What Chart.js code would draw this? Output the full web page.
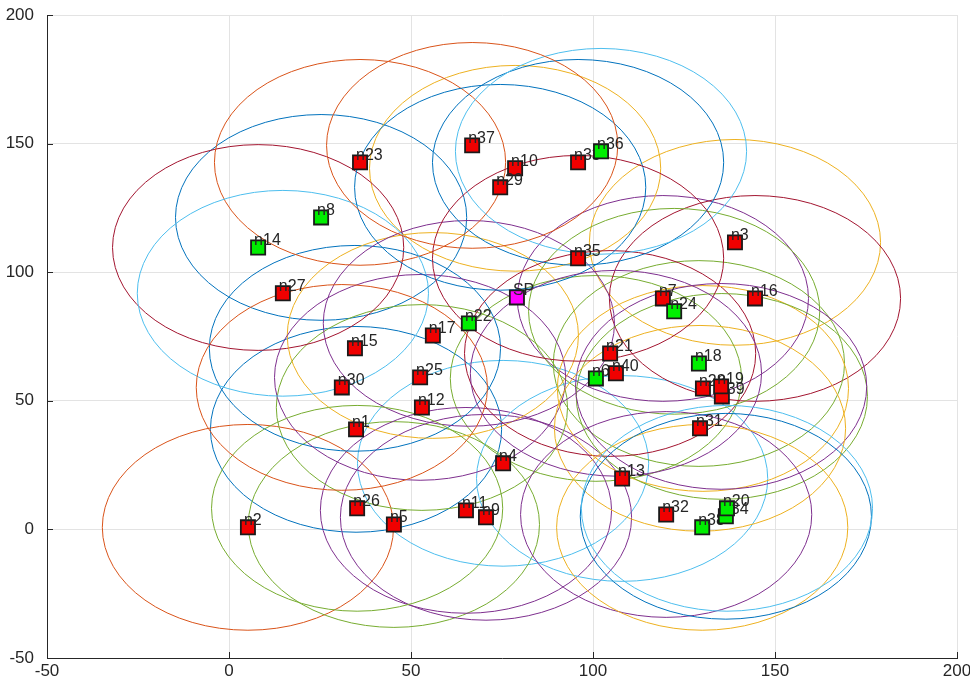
<!DOCTYPE html>
<html>
<head>
<meta charset="utf-8">
<script src="https://cdn.jsdelivr.net/npm/chart.js@4.4.1/dist/chart.umd.min.js"></script>
<style>
  html, body { margin: 0; padding: 0; background: #fff; }
  canvas { display: block; }
</style>
</head>
<body>
<canvas id="net" width="970" height="688"></canvas>
<script>
// node data (drawing order matters: later nodes sit on top of earlier labels)
const nodeNames = ['n1','n2','n3','n4','n5','n6','n7','n8','n10','n11','n9','n12','n13','n14','n15','n16','n17','n18',
                   'n21','n22','n23','n24','n25','n26','n27','n28','n39','n19','n29','n30','n31','n32','n33','n35',
                   'n36','n37','n38','n40','n34','n20','SP'];
const nodeX = [34.9, 5.2, 139.0, 75.3, 45.3, 100.8, 119.2, 25.3, 78.6, 65.1, 70.6, 53.0, 108.0, 8.0, 34.6, 144.5, 56.0, 129.1,
               104.7, 65.9, 36.0, 122.3, 52.5, 35.2, 14.8, 130.2, 135.4, 135.2, 74.5, 31.0, 129.4, 120.1, 95.9, 95.9,
               102.2, 66.8, 130.0, 106.3, 136.5, 136.8, 79.1];
const nodeY = [38.9, 0.8, 111.6, 25.7, 1.9, 58.7, 89.8, 121.3, 140.4, 7.4, 4.7, 47.4, 19.8, 109.6, 70.4, 89.8, 75.4, 64.5,
               68.4, 80.1, 142.7, 84.8, 59.1, 8.2, 91.8, 54.8, 51.7, 55.6, 133.0, 55.2, 39.3, 5.8, 142.7, 105.4,
               147.0, 149.3, 0.8, 60.7, 5.1, 8.2, 90.2];
// r = red node, g = green node, s = sink point
const nodeKind = ['r','r','r','r','r','g','r','g','r','r','r','r','r','g','r','r','r','g',
                  'r','g','r','g','r','r','r','r','r','r','r','r','r','r','r','r',
                  'g','r','g','r','g','g','s'];
const RANGE = 40;

const xTicks = [-50, 0, 50, 100, 150, 200];
const yTicks = [-50, 0, 50, 100, 150, 200];

// ring colours (matlab default order), index per node, -1 = no ring
const palette = ['#0072BD','#D95319','#EDB120','#7E2F8E','#77AC30','#4DBEEE','#A2142F'];
const ringIdx = [0,1,2,5,4,4,3,0,2,3,3,4,5,6,0,6,2,4,
                 6,3,1,4,3,4,5,2,4,3,0,1,2,3,0,6,
                 5,1,2,3,0,5,-1];
const fillFor = { r: '#f00000', g: '#00ee00', s: '#ff00ff' };
const TXT = '#262626';
const FONT = '"Liberation Sans", Arial, Helvetica, sans-serif';

const datasets = nodeNames.map((name, i) => ({
    label: name,
    data: [{ x: nodeX[i], y: nodeY[i] }],
    pointStyle: 'rect',
    pointRadius: 10,
    pointHoverRadius: 10,
    backgroundColor: fillFor[nodeKind[i]],
    borderColor: '#1a1a1a',
    borderWidth: 1.8,
    order: -i
}));

// rings of radius RANGE around every node
const ringPlugin = {
    id: 'rings',
    beforeDatasetsDraw(chart) {
        const { ctx, chartArea, scales: { x, y } } = chart;
        ctx.save();
        ctx.beginPath();
        ctx.rect(chartArea.left, chartArea.top, chartArea.width, chartArea.height);
        ctx.clip();
        ctx.lineWidth = 1;
        for (let i = 0; i < nodeNames.length; i++) {
            if (ringIdx[i] < 0) continue;
            const cx = x.getPixelForValue(nodeX[i]);
            const cy = y.getPixelForValue(nodeY[i]);
            const rx = Math.abs(x.getPixelForValue(nodeX[i] + RANGE) - cx);
            const ry = Math.abs(y.getPixelForValue(nodeY[i] + RANGE) - cy);
            ctx.strokeStyle = palette[ringIdx[i]];
            ctx.beginPath();
            ctx.ellipse(cx, cy, rx, ry, 0, 0, Math.PI * 2);
            ctx.stroke();
        }
        ctx.restore();
    }
};

// node name next to each marker, drawn right after its own marker
const labelPlugin = {
    id: 'nodeLabels',
    afterDatasetDraw(chart, args) {
        const pt = args.meta.data[0];
        if (!pt) return;
        const ctx = chart.ctx;
        ctx.save();
        ctx.font = '16px ' + FONT;
        ctx.fillStyle = TXT;
        ctx.textAlign = 'left';
        ctx.textBaseline = 'middle';
        ctx.fillText(nodeNames[args.index], pt.x - 4, pt.y - 7);
        ctx.restore();
    }
};

// matlab style ticks pointing into the axes
const innerTicks = {
    id: 'innerTicks',
    afterDraw(chart) {
        const { ctx, chartArea, scales: { x, y } } = chart;
        ctx.save();
        ctx.strokeStyle = TXT;
        ctx.lineWidth = 1;
        ctx.beginPath();
        x.ticks.forEach(t => {
            const px = Math.round(x.getPixelForValue(t.value)) + 0.5;
            ctx.moveTo(px, chartArea.bottom);
            ctx.lineTo(px, chartArea.bottom - 6);
        });
        y.ticks.forEach(t => {
            const py = Math.round(y.getPixelForValue(t.value)) + 0.5;
            ctx.moveTo(chartArea.left, py);
            ctx.lineTo(chartArea.left + 6, py);
        });
        ctx.stroke();
        ctx.restore();
    }
};

new Chart(document.getElementById('net'), {
    type: 'scatter',
    data: { datasets: datasets },
    options: {
        responsive: false,
        animation: false,
        devicePixelRatio: 1,
        layout: { padding: { top: 15, right: 13, left: 0, bottom: 0 } },
        plugins: { legend: { display: false }, tooltip: { enabled: false } },
        scales: {
            x: {
                type: 'linear', min: -50, max: 200,
                afterBuildTicks: s => { s.ticks = xTicks.map(v => ({ value: v })); },
                afterFit: s => { s.height = 30; s.paddingLeft = 0; s.paddingRight = 0; },
                ticks: { color: TXT, font: { family: FONT, size: 17 }, padding: 3, maxRotation: 0 },
                grid: { color: '#e3e3e3', drawTicks: false },
                border: { display: true, color: TXT, width: 1 }
            },
            y: {
                type: 'linear', min: -50, max: 200,
                afterBuildTicks: s => { s.ticks = yTicks.map(v => ({ value: v })); },
                afterFit: s => { s.width = 47; s.paddingTop = 0; s.paddingBottom = 0; },
                ticks: { color: TXT, font: { family: FONT, size: 17 }, padding: 13 },
                grid: { color: '#e3e3e3', drawTicks: false },
                border: { display: true, color: TXT, width: 1 }
            }
        }
    },
    plugins: [ringPlugin, labelPlugin, innerTicks]
});
</script>
</body>
</html>
